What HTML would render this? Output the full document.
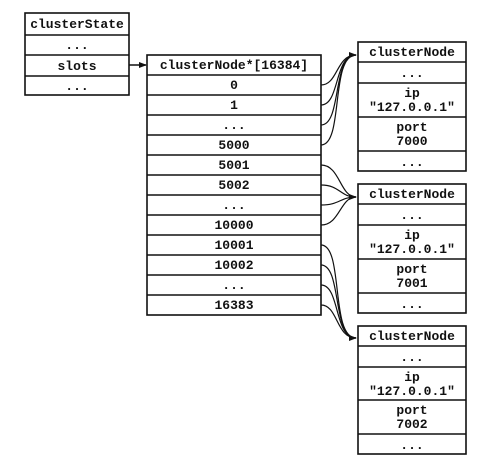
<!DOCTYPE html>
<html><head><style>
body{margin:0;background:#fff;width:482px;height:464px;overflow:hidden}
svg text{font-family:"Liberation Mono",monospace;font-size:13px;font-weight:bold;fill:#111;text-anchor:middle}
</style></head><body>
<svg width="482" height="464" viewBox="0 0 482 464" xmlns="http://www.w3.org/2000/svg">
<defs><marker id="a" markerWidth="8" markerHeight="8" refX="7" refY="4" orient="auto" markerUnits="userSpaceOnUse"><path d="M0,1 L8,4 L0,7z" fill="#111"/></marker></defs>
<g stroke="#111" stroke-width="1.6" fill="none">
<rect x="25" y="13" width="104" height="82"/>
<path d="M25,35H129M25,55H129M25,76H129"/>
<rect x="147" y="55" width="174" height="260"/>
<path d="M147,75H321M147,95H321M147,115H321M147,135H321M147,155H321M147,175H321M147,195H321M147,215H321M147,235H321M147,255H321M147,275H321M147,295H321"/>
<rect x="358" y="42" width="108" height="129"/>
<path d="M358,62H466M358,83H466M358,117H466M358,151H466"/>
<rect x="358" y="184" width="108" height="129"/>
<path d="M358,204H466M358,225H466M358,259H466M358,293H466"/>
<rect x="358" y="326" width="108" height="128"/>
<path d="M358,346H466M358,367H466M358,400H466M358,434H466"/>
<path d="M129,65H146" marker-end="url(#a)"/>
<g stroke-width="1.2">
<path d="M321,85C338,85 336,55 356,55" marker-end="url(#a)"/>
<path d="M321,105C340,105 334,55 356,55"/>
<path d="M321,125C342,125 332,55 356,55"/>
<path d="M321,145C344,145 330,55 356,55"/>
<path d="M321,165C340,165 340,197 356,197" marker-end="url(#a)"/>
<path d="M321,185C340,185 340,197 356,197"/>
<path d="M321,205C340,205 340,197 356,197"/>
<path d="M321,225C340,225 340,197 356,197"/>
<path d="M321,245C344,245 330,338 356,338" marker-end="url(#a)"/>
<path d="M321,265C342,265 332,338 356,338"/>
<path d="M321,285C340,285 334,338 356,338"/>
<path d="M321,305C338,305 336,338 356,338"/>
</g></g>
<text x="77" y="28">clusterState</text>
<text x="77" y="49">...</text>
<text x="77" y="70">slots</text>
<text x="77" y="90">...</text>
<text x="234" y="69">clusterNode*[16384]</text>
<text x="234" y="89">0</text>
<text x="234" y="109">1</text>
<text x="234" y="129">...</text>
<text x="234" y="149">5000</text>
<text x="234" y="169">5001</text>
<text x="234" y="189">5002</text>
<text x="234" y="209">...</text>
<text x="234" y="229">10000</text>
<text x="234" y="249">10001</text>
<text x="234" y="269">10002</text>
<text x="234" y="289">...</text>
<text x="234" y="309">16383</text>
<g>
<text x="412" y="56">clusterNode</text><text x="412" y="77">...</text>
<text x="412" y="97">ip</text><text x="412" y="111">"127.0.0.1"</text>
<text x="412" y="131">port</text><text x="412" y="145">7000</text>
<text x="412" y="166">...</text>
</g>
<g>
<text x="412" y="198">clusterNode</text><text x="412" y="219">...</text>
<text x="412" y="239">ip</text><text x="412" y="253">"127.0.0.1"</text>
<text x="412" y="273">port</text><text x="412" y="287">7001</text>
<text x="412" y="308">...</text>
</g>
<g>
<text x="412" y="340">clusterNode</text><text x="412" y="361">...</text>
<text x="412" y="381">ip</text><text x="412" y="395">"127.0.0.1"</text>
<text x="412" y="414">port</text><text x="412" y="428">7002</text>
<text x="412" y="449">...</text>
</g>
</svg>
</body></html>
